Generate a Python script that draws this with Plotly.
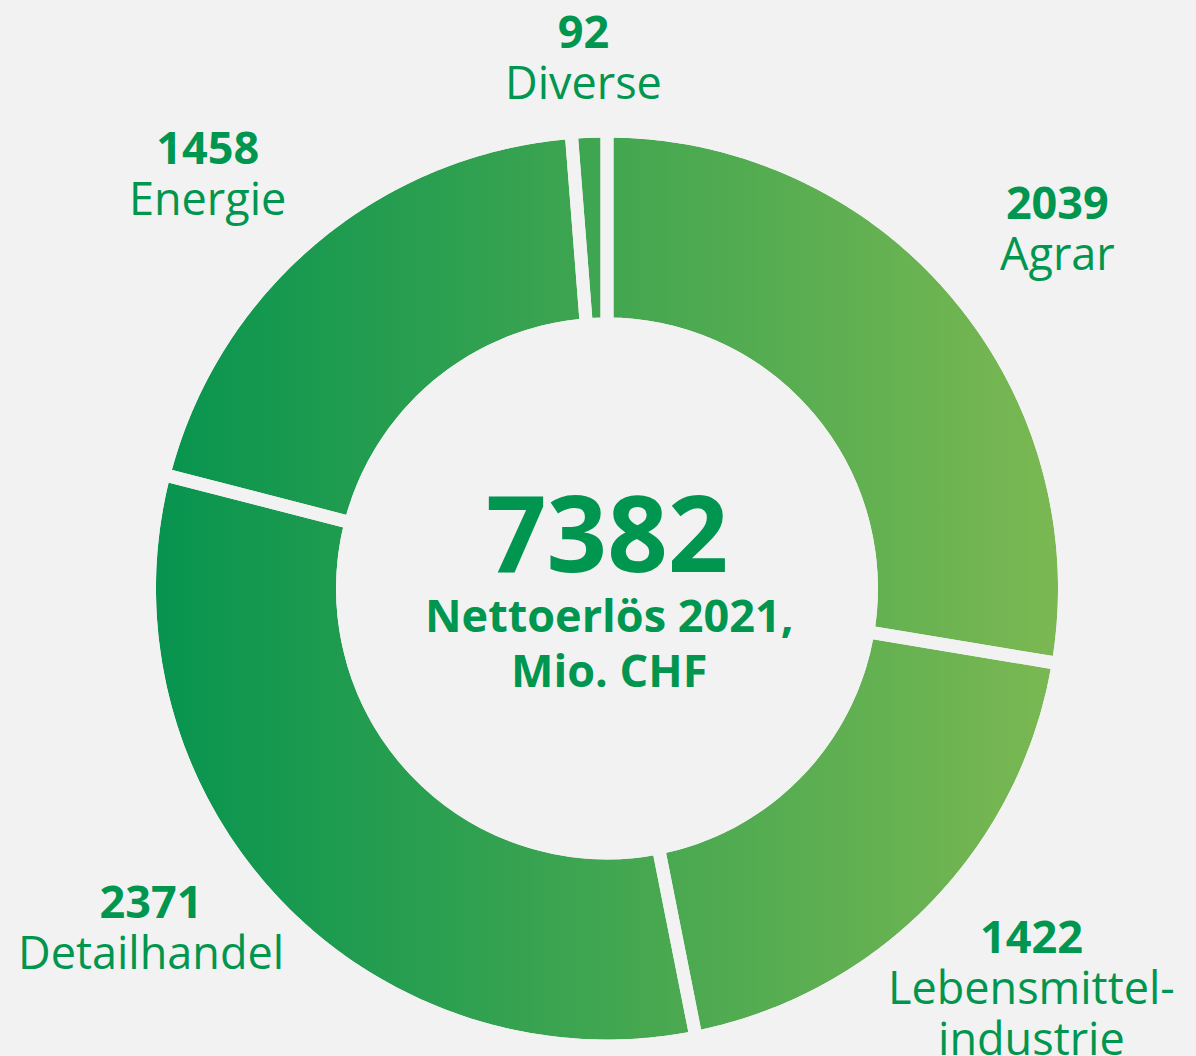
import numpy as np
import plotly.graph_objects as go

# ---- data ----
categories = ["Agrar", "Lebensmittelindustrie", "Detailhandel", "Energie", "Diverse"]
display_lines = [["Agrar"], ["Lebensmittel-", "industrie"], ["Detailhandel"], ["Energie"], ["Diverse"]]
values = [2039, 1422, 2371, 1458, 92]
total_value = 7382
center_caption = ["Nettoerlös 2021,", "Mio. CHF"]

# ---- layout / style ----
W, H = 1196, 1056
BG = "#F2F2F2"
TXT = "#00964F"
FONT = "Open Sans"
GRAD_LEFT = "#07944F"
GRAD_RIGHT = "#7BB852"

cx, cy = 607.0, 588.5       # donut centre (px from top-left)
R_pie = 457.5               # pie radius incl. half stroke
GAP = 13                    # gap width between slices
HOLE = 0.578

LABEL_SIZE = 45
LINE_STEP = 51              # px between successive label lines
# (x, y of first line) for each category label, same order as categories
label_pos = [(1057, 201), (1031, 935), (151, 900), (207, 146), (583, 30)]

fig = go.Figure()

# gradient disc (background of donut ring)
t = np.linspace(0, 2 * np.pi, 721)
r_vis = R_pie - GAP / 2
fig.add_trace(go.Scatter(
    x=cx + r_vis * np.cos(t), y=cy + r_vis * np.sin(t),
    mode="none", fill="toself",
    fillgradient=dict(type="horizontal",
                      colorscale=[[0, GRAD_LEFT], [1, GRAD_RIGHT]]),
    hoverinfo="skip", showlegend=False,
))

# the pie itself: transparent slices, background-coloured separators
fig.add_trace(go.Pie(
    labels=categories, values=values,
    sort=False, direction="clockwise", rotation=0,
    hole=HOLE,
    marker=dict(colors=["rgba(0,0,0,0)"] * len(values),
                line=dict(color=BG, width=GAP)),
    textinfo="none", hoverinfo="label+value",
    showlegend=False,
    domain=dict(x=[(cx - R_pie) / W, (cx + R_pie) / W],
                y=[(H - cy - R_pie) / H, (H - cy + R_pie) / H]),
))

# hole mask
r_in = HOLE * R_pie + GAP / 2
fig.add_shape(type="circle", xref="x", yref="y",
              x0=cx - r_in, x1=cx + r_in, y0=cy - r_in, y1=cy + r_in,
              fillcolor=BG, line=dict(width=0), layer="above")


def sized(s, size, bold=False):
    inner = f"<b>{s}</b>" if bold else s
    return f"<span style='font-size:{size}px'>{inner}</span>"


def put_block(lines_html, x, y_first, step, size_glyph):
    # base font size controls the line spacing (1.3em per line)
    n = len(lines_html)
    fig.add_annotation(
        x=x, y=y_first + step * (n - 1) / 2, xref="x", yref="y",
        xanchor="center", yanchor="middle",
        text="<br>".join(lines_html), showarrow=False, align="center",
        font=dict(family=FONT, size=step / 1.3, color=TXT),
    )


# outside labels
for lines, v, (lx, ly) in zip(display_lines, values, label_pos):
    html = [sized(str(v), LABEL_SIZE, bold=True)] + [sized(l, LABEL_SIZE) for l in lines]
    put_block(html, lx, ly, LINE_STEP, LABEL_SIZE)

# centre texts
fig.add_annotation(x=cx, y=531, xref="x", yref="y", xanchor="center", yanchor="middle",
                   text=f"<b>{total_value}</b>", showarrow=False,
                   font=dict(family=FONT, size=106, color=TXT))
put_block([sized(c, 45, bold=True) for c in center_caption], cx + 2, 614, 55, 45)

fig.update_layout(
    width=W, height=H, margin=dict(l=0, r=0, t=0, b=0),
    paper_bgcolor=BG, plot_bgcolor=BG,
    xaxis=dict(range=[0, W], visible=False, fixedrange=True, domain=[0, 1]),
    yaxis=dict(range=[H, 0], visible=False, fixedrange=True, domain=[0, 1]),
    showlegend=False,
)

fig.write_html(
    "out.html",
    config={"displayModeBar": False},
    post_script="document.body.style.margin='0';document.body.style.background='#F2F2F2';",
)
